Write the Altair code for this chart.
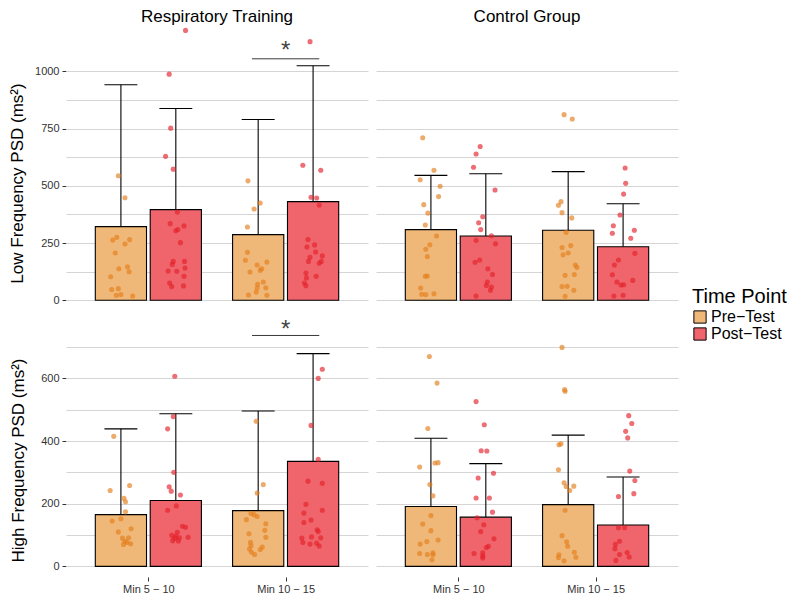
import altair as alt
import pandas as pd

FONT = "Liberation Sans"
GROUPS = ["Respiratory Training", "Control Group"]
TIMES = ["Min 5 − 10", "Min 10 − 15"]
PHASES = ["Pre−Test", "Post−Test"]
BAR_FILL = ["#F0B878", "#F0646C"]
POINT_COLORS = ["#E47E1B", "#E3212A"]

# bar heights (means) and error-bar tops, indexed [group][time][phase]
LF_MEAN = [[[322, 396], [287, 431]], [[309, 281], [306, 234]]]
LF_TOP = [[[942, 838], [790, 1025]], [[546, 553], [562, 422]]]
HF_MEAN = [[[165, 210], [178, 335]], [[191, 157], [197, 132]]]
HF_TOP = [[[439, 487], [496, 679]], [[409, 328], [419, 285]]]

# individual observations (value) and horizontal jitter (fraction of bar width)
LF_RT_1_PRE = [544, 448, 263, 275, 265, 207, 246, 138, 146, 125, 103, 47, 51, 22, 25, 19]
LF_RT_1_PRE_J = [-0.05, 0.08, -0.16, -0.08, 0.17, -0.11, 0.08, -0.04, 0.13, 0.16, -0.20, -0.18, -0.05, -0.09, 0.00, 0.23]
LF_RT_1_POST = [1179, 988, 752, 629, 573, 386, 335, 304, 309, 325, 252, 170, 157, 170, 141, 128, 127, 105, 76, 60, 63]
LF_RT_1_POST_J = [0.19, -0.13, -0.10, -0.20, -0.05, 0.03, -0.11, 0.00, 0.04, 0.16, 0.09, -0.05, -0.07, 0.17, 0.18, -0.15, 0.02, 0.16, -0.12, -0.08, 0.15]
LF_RT_2_PRE = [522, 425, 399, 320, 210, 175, 167, 154, 138, 131, 124, 80, 70, 54, 55, 36, 23, 22]
LF_RT_2_PRE_J = [-0.20, 0.04, -0.08, -0.21, -0.21, -0.25, 0.17, -0.02, 0.07, 0.04, -0.16, 0.10, -0.01, -0.02, 0.15, -0.04, -0.19, 0.17]
LF_RT_2_POST = [1130, 590, 568, 450, 447, 416, 266, 233, 242, 211, 194, 188, 170, 170, 162, 119, 98, 105, 76, 64]
LF_RT_2_POST_J = [-0.06, -0.20, 0.15, -0.04, 0.07, 0.12, -0.10, -0.12, 0.03, 0.05, 0.18, -0.06, -0.09, 0.16, 0.12, -0.14, -0.13, 0.06, -0.17, -0.14]
LF_CG_1_PRE = [710, 568, 527, 498, 453, 418, 381, 329, 281, 243, 223, 191, 106, 105, 54, 26, 25, 29]
LF_CG_1_PRE_J = [-0.16, 0.06, -0.21, 0.18, 0.15, -0.14, -0.06, -0.11, 0.11, -0.02, -0.10, -0.07, -0.07, -0.11, -0.20, -0.18, -0.10, 0.06]
LF_CG_1_POST = [672, 639, 581, 482, 365, 339, 309, 282, 262, 247, 176, 166, 138, 113, 80, 65, 58, 44, 19]
LF_CG_1_POST_J = [-0.11, -0.19, -0.24, 0.18, -0.06, -0.14, -0.10, 0.11, -0.19, 0.19, -0.12, -0.21, 0.04, 0.13, 0.03, 0.01, 0.11, 0.09, -0.19]
LF_CG_2_PRE = [811, 792, 431, 415, 383, 360, 297, 231, 239, 199, 207, 154, 144, 109, 113, 60, 61, 44, 18]
LF_CG_2_PRE_J = [-0.08, 0.08, -0.14, -0.19, -0.12, 0.07, -0.04, -0.12, 0.05, -0.10, 0.00, 0.14, 0.17, -0.06, 0.12, -0.12, -0.02, 0.11, -0.06]
LF_CG_2_POST = [578, 511, 464, 373, 326, 306, 293, 271, 205, 176, 154, 112, 87, 80, 67, 68, 19, 22]
LF_CG_2_POST_J = [0.04, 0.05, 0.01, -0.06, -0.19, 0.22, -0.21, 0.15, 0.23, -0.09, -0.17, -0.21, 0.19, -0.12, -0.04, 0.01, -0.18, 0.00]

HF_RT_1_PRE = [415, 242, 258, 217, 206, 174, 145, 152, 120, 110, 90, 91, 80, 70, 72, 76]
HF_RT_1_PRE_J = [-0.14, -0.21, 0.17, 0.06, 0.09, 0.09, -0.17, 0.00, 0.20, -0.05, 0.03, 0.15, 0.08, 0.05, 0.19, 0.12]
HF_RT_1_POST = [607, 478, 439, 300, 254, 240, 228, 193, 179, 128, 125, 109, 99, 93, 97, 90, 91, 82, 81]
HF_RT_1_POST_J = [-0.02, -0.05, -0.16, -0.04, -0.13, -0.09, 0.09, 0.01, -0.16, 0.13, 0.19, 0.03, -0.08, 0.24, 0.00, -0.02, 0.07, -0.06, 0.05]
HF_RT_2_PRE = [463, 261, 234, 169, 165, 159, 149, 136, 115, 104, 93, 77, 66, 55, 62, 54, 38, 45]
HF_RT_2_PRE_J = [-0.04, 0.10, -0.02, -0.14, -0.08, -0.02, -0.23, 0.15, 0.13, -0.18, 0.15, -0.15, -0.14, -0.17, 0.08, 0.04, -0.07, -0.13]
HF_RT_2_POST = [629, 600, 450, 342, 272, 265, 198, 170, 179, 148, 140, 117, 111, 90, 94, 91, 76, 71, 74, 65]
HF_RT_2_POST_J = [0.18, 0.10, -0.04, 0.10, -0.10, 0.18, -0.14, -0.18, 0.18, -0.04, -0.18, 0.08, 0.10, -0.22, -0.03, 0.15, -0.20, -0.06, 0.07, 0.12]
HF_CG_1_PRE = [670, 585, 440, 317, 330, 331, 261, 225, 162, 135, 114, 84, 79, 71, 41, 38, 43, 37, 21]
HF_CG_1_PRE_J = [-0.03, 0.12, -0.06, -0.22, 0.08, 0.14, -0.02, 0.04, 0.00, -0.16, 0.00, 0.14, -0.08, -0.21, -0.22, -0.07, 0.04, 0.04, 0.02]
HF_CG_1_POST = [526, 452, 369, 368, 297, 282, 218, 218, 173, 155, 133, 111, 88, 64, 60, 41, 43, 33, 27]
HF_CG_1_POST_J = [-0.19, -0.03, -0.09, 0.02, 0.15, -0.15, -0.19, 0.07, 0.13, -0.17, -0.04, -0.10, 0.16, 0.05, 0.01, -0.23, -0.06, -0.06, -0.06]
HF_CG_2_PRE = [699, 564, 559, 388, 391, 308, 267, 255, 242, 256, 179, 98, 78, 64, 45, 29, 37, 28, 18]
HF_CG_2_PRE_J = [-0.12, -0.07, -0.06, -0.18, -0.14, -0.19, -0.08, -0.04, 0.03, 0.11, -0.06, -0.12, -0.03, -0.01, 0.12, 0.15, -0.18, -0.19, -0.08]
HF_CG_2_POST = [481, 456, 431, 410, 304, 274, 232, 223, 123, 123, 80, 70, 56, 44, 38, 30, 19]
HF_CG_2_POST_J = [0.11, 0.17, 0.05, 0.09, 0.13, 0.23, 0.21, -0.09, -0.09, 0.03, -0.07, -0.15, -0.16, 0.08, -0.07, 0.12, -0.14]

# significance annotations (group, time, bracket height, star height)
LF_SIG = [("Respiratory Training", "Min 10 − 15", 1055, 1109)]
HF_SIG = [("Respiratory Training", "Min 10 − 15", 737, 769)]

DODGE = 0.2
BAR_W = 0.373
CAP = 0.12
BRACKET = 0.245


def build(mean, top, points, sig):
    rows = []
    for gi, g in enumerate(GROUPS):
        for ti, t in enumerate(TIMES):
            for pi, p in enumerate(PHASES):
                xc = (ti + 1) + (DODGE if pi else -DODGE)
                rows.append(dict(kind="bar", group=g, phase=p, xc=xc,
                                 x1=xc - BAR_W / 2, x2=xc + BAR_W / 2,
                                 c1=xc - CAP, c2=xc + CAP,
                                 y=mean[gi][ti][pi], y2=top[gi][ti][pi]))
                vals, jit = points[(gi, ti, pi)]
                for v, j in zip(vals, jit):
                    rows.append(dict(kind="pt", group=g, phase=p,
                                     xc=xc + j * BAR_W, y=v))
    for g, t, yb, ys in sig:
        xc = TIMES.index(t) + 1
        rows.append(dict(kind="sig", group=g, phase="", xc=xc,
                         x1=xc - BRACKET, x2=xc + BRACKET, y=yb, y2=ys))
    return pd.DataFrame(rows)


LF_POINTS = {
    (0, 0, 0): (LF_RT_1_PRE, LF_RT_1_PRE_J), (0, 0, 1): (LF_RT_1_POST, LF_RT_1_POST_J),
    (0, 1, 0): (LF_RT_2_PRE, LF_RT_2_PRE_J), (0, 1, 1): (LF_RT_2_POST, LF_RT_2_POST_J),
    (1, 0, 0): (LF_CG_1_PRE, LF_CG_1_PRE_J), (1, 0, 1): (LF_CG_1_POST, LF_CG_1_POST_J),
    (1, 1, 0): (LF_CG_2_PRE, LF_CG_2_PRE_J), (1, 1, 1): (LF_CG_2_POST, LF_CG_2_POST_J),
}
HF_POINTS = {
    (0, 0, 0): (HF_RT_1_PRE, HF_RT_1_PRE_J), (0, 0, 1): (HF_RT_1_POST, HF_RT_1_POST_J),
    (0, 1, 0): (HF_RT_2_PRE, HF_RT_2_PRE_J), (0, 1, 1): (HF_RT_2_POST, HF_RT_2_POST_J),
    (1, 0, 0): (HF_CG_1_PRE, HF_CG_1_PRE_J), (1, 0, 1): (HF_CG_1_POST, HF_CG_1_POST_J),
    (1, 1, 0): (HF_CG_2_PRE, HF_CG_2_PRE_J), (1, 1, 1): (HF_CG_2_POST, HF_CG_2_POST_J),
}

lf_df = build(LF_MEAN, LF_TOP, LF_POINTS, LF_SIG)
hf_df = build(HF_MEAN, HF_TOP, HF_POINTS, HF_SIG)


def row(df, domain, step, major, ytitle, height, top):
    xs = alt.Scale(domain=[0.4, 2.6], nice=False, zero=False)
    ys = alt.Scale(domain=domain, nice=False, zero=False)
    ticks = list(range(0, int(domain[1]) + 1, step))
    yaxis = alt.Axis(
        values=ticks, format="d",
        labelExpr=f"datum.value % {major} == 0 ? datum.label : ''",
        tickOpacity={"condition": {"test": f"datum.value % {major} != 0", "value": 0}, "value": 1},
        title=ytitle, minExtent=31, titlePadding=8, labelPadding=3,
    )
    if top:
        xaxis = None
    else:
        xaxis = alt.Axis(values=[1, 2], title=None, grid=False,
                         labelExpr=f"datum.value == 1 ? '{TIMES[0]}' : '{TIMES[1]}'",
                         labelPadding=2)
    x = alt.X("xc:Q", scale=xs, axis=xaxis)
    y = alt.Y("y:Q", scale=ys, axis=yaxis)
    fill_kw = dict(scale=alt.Scale(domain=PHASES, range=BAR_FILL), sort=PHASES)
    if top:
        fill_legend = alt.Legend(
            title="Time Point", orient="none", legendX=626, legendY=233,
            symbolType="square", symbolSize=150, symbolStrokeColor="black",
            symbolStrokeWidth=1, titleFontSize=20, titleFontWeight="normal",
            labelFontSize=16, titlePadding=2, rowPadding=-1, labelOffset=3,
            titleColor="black", labelColor="black",
        )
        fill = alt.Fill("phase:N", legend=fill_legend, **fill_kw)
    else:
        fill = alt.Fill("phase:N", legend=None, **fill_kw)

    err = alt.Chart().mark_rule(color="black", strokeWidth=1.1).encode(
        x=x, y=y, y2="y2:Q").transform_filter("datum.kind == 'bar'")
    cap = alt.Chart().mark_rule(color="black", strokeWidth=1.1).encode(
        x=alt.X("c1:Q", scale=xs, axis=xaxis), x2="c2:Q",
        y=alt.Y("y2:Q", scale=ys, axis=yaxis)).transform_filter("datum.kind == 'bar'")
    bars = alt.Chart().mark_bar(stroke="black", strokeWidth=1.1).encode(
        x=alt.X("x1:Q", scale=xs, axis=xaxis), x2="x2:Q",
        y=y, y2=alt.datum(0), fill=fill).transform_filter("datum.kind == 'bar'")
    pts = alt.Chart().mark_circle(size=26, opacity=0.65).encode(
        x=x, y=y,
        color=alt.Color("phase:N", scale=alt.Scale(domain=PHASES, range=POINT_COLORS), legend=None),
    ).transform_filter("datum.kind == 'pt'")
    brk = alt.Chart().mark_rule(color="#3a3a3a", strokeWidth=1).encode(
        x=alt.X("x1:Q", scale=xs, axis=xaxis), x2="x2:Q", y=y,
    ).transform_filter("datum.kind == 'sig'")
    star = alt.Chart().mark_text(text="*", fontSize=24, color="#444444", baseline="middle", dy=5).encode(
        x=x, y=alt.Y("y2:Q", scale=ys, axis=yaxis),
    ).transform_filter("datum.kind == 'sig'")

    layer = alt.layer(err, cap, bars, pts, brk, star).properties(width=302, height=height)
    if top:
        col = alt.Column("group:N", sort=GROUPS, title=None,
                         header=alt.Header(labelFontSize=17, labelColor="black", labelPadding=1,
                                           labelFont=FONT))
    else:
        col = alt.Column("group:N", sort=GROUPS, header=None)
    return layer.facet(column=col, data=df, spacing=8)


top_chart = row(lf_df, [-51, 1076], 125, 250, "Low Frequency PSD (ms²)", 258, True)
bot_chart = row(hf_df, [-34, 713], 100, 200, "High Frequency PSD (ms²)", 234, False)

chart = alt.vconcat(top_chart, bot_chart, spacing=6).properties(
    padding={"left": 0, "top": 0, "right": 0, "bottom": 0}
).configure(font=FONT).configure_view(stroke=None).configure_axis(
    labelFontSize=11, labelColor="#333333", titleFontSize=17, titleFontWeight="normal",
    titleColor="black", tickColor="#333333", tickSize=4, domain=False,
    gridColor="#D5D5D5", gridWidth=1,
).configure_axisX(grid=False)

chart.save("out.html", embed_options={"renderer": "svg", "actions": False})
